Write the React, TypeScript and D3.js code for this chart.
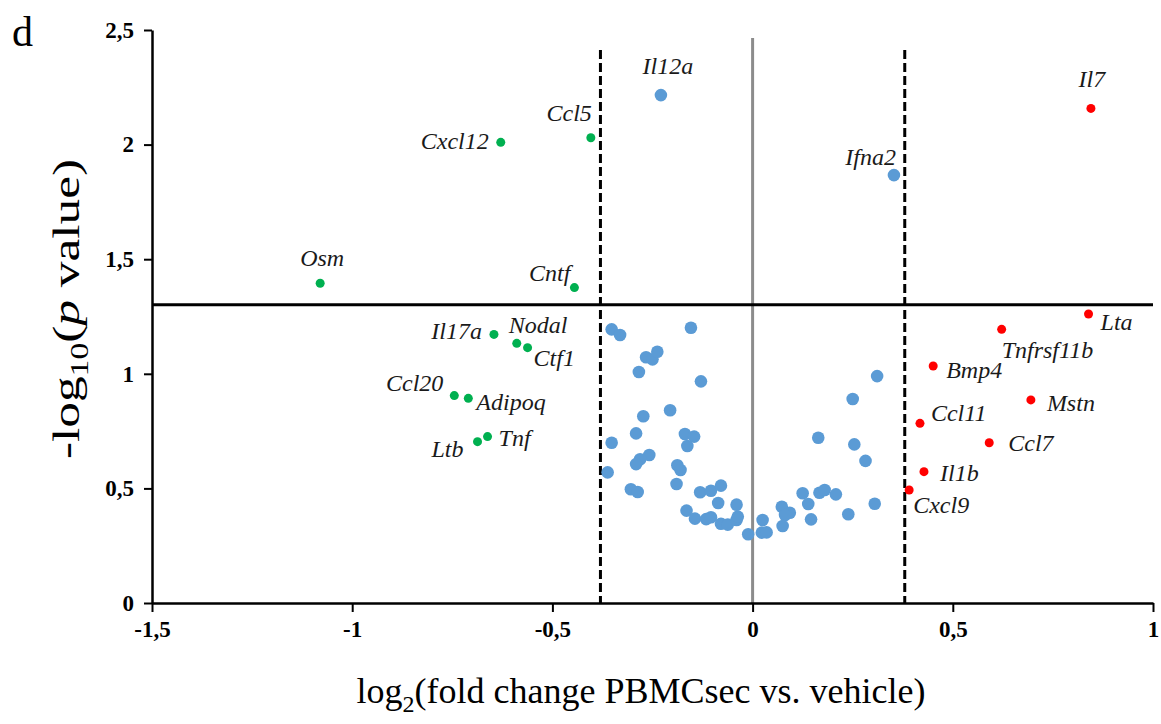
import React, { useRef, useEffect } from 'react';
import * as d3 from 'd3';

// x = log2 fold change, y = -log10 p
const blueX = [-0.352, -0.331, -0.154, -0.266, -0.25, -0.238, -0.284, -0.129, -0.206, -0.273, -0.291, -0.352, -0.169, -0.146, -0.163, -0.258, -0.281, -0.291, -0.362, -0.188, -0.18, -0.304, -0.287, -0.19, -0.131, -0.104, -0.079, -0.086, -0.04, -0.165, -0.144, -0.116, -0.104, -0.079, -0.062, -0.04, -0.037, -0.011, 0.025, 0.023, 0.035, 0.073, 0.093, 0.081, 0.075, 0.125, 0.139, 0.146, 0.164, 0.167, 0.18, 0.208, 0.239, 0.254, 0.25, 0.282, 0.311, 0.305];
const blueY = [1.194, 1.169, 1.201, 1.072, 1.063, 1.096, 1.008, 0.967, 0.841, 0.815, 0.74, 0.699, 0.737, 0.726, 0.685, 0.646, 0.627, 0.606, 0.57, 0.601, 0.58, 0.496, 0.484, 0.519, 0.483, 0.49, 0.512, 0.436, 0.429, 0.403, 0.368, 0.366, 0.374, 0.346, 0.342, 0.362, 0.377, 0.3, 0.362, 0.307, 0.308, 0.42, 0.394, 0.384, 0.336, 0.479, 0.432, 0.365, 0.721, 0.481, 0.493, 0.474, 0.387, 0.692, 0.89, 0.62, 0.99, 0.433];

const blueNamed = ['Il12a', 'Ifna2'];
const blueNamedX = [-0.229, 0.353];
const blueNamedY = [2.216, 1.867];

const greenNames = ['Osm', 'Cxcl12', 'Ccl5', 'Cntf', 'Il17a', 'Nodal', 'Ctf1', 'Ccl20', 'Adipoq', 'Ltb', 'Tnf'];
const greenX = [-1.08, -0.629, -0.404, -0.445, -0.646, -0.589, -0.562, -0.745, -0.71, -0.687, -0.662];
const greenY = [1.395, 2.01, 2.03, 1.376, 1.172, 1.133, 1.114, 0.905, 0.893, 0.704, 0.726];

const redNames = ['Il7', 'Lta', 'Tnfrsf11b', 'Bmp4', 'Mstn', 'Ccl11', 'Ccl7', 'Il1b', 'Cxcl9'];
const redX = [0.845, 0.839, 0.622, 0.451, 0.695, 0.418, 0.591, 0.428, 0.391];
const redY = [2.158, 1.261, 1.194, 1.034, 0.886, 0.784, 0.699, 0.573, 0.493];

const xTicks = [-1.5, -1, -0.5, 0, 0.5, 1];
const yTicks = [0, 0.5, 1, 1.5, 2, 2.5];
const pThreshold = 1.301;
const fcThreshold = 0.38;

// label placement relative to the point: [anchor, dx, dy]
const labelPlace: Record<string, [string, number, number]> = {
  Il12a: ['middle', 7, -21],
  Ifna2: ['end', 2, -10],
  Il7: ['middle', 1, -21],
  Osm: ['middle', 2, -17],
  Cxcl12: ['end', -12, 7],
  Ccl5: ['end', 1, -17],
  Cntf: ['end', -4, -7],
  Il17a: ['end', -12, 5],
  Nodal: ['start', -8, -10],
  Ctf1: ['start', 6, 18],
  Ccl20: ['end', -11, -5],
  Adipoq: ['start', 8, 12],
  Ltb: ['end', -14, 15],
  Tnf: ['start', 11, 9],
  Lta: ['start', 12, 16],
  Tnfrsf11b: ['start', 0, 29],
  Bmp4: ['start', 13, 12],
  Mstn: ['start', 16, 11],
  Ccl11: ['start', 11, -2],
  Ccl7: ['start', 19, 8],
  Il1b: ['start', 16, 9],
  Cxcl9: ['start', 4, 23],
};

const App = () => {
  const svgRef = useRef<SVGSVGElement>(null);

  useEffect(() => {
    const svg = d3.select(svgRef.current);
    svg.selectAll('*').remove();

    const width = 1161;
    const height = 724;
    const left = 152, right = 1153, top = 30, bottom = 603;
    const serif = '"Liberation Serif", "Times New Roman", serif';

    const x = d3.scaleLinear().domain([-1.5, 1]).range([left, right]);
    const y = d3.scaleLinear().domain([0, 2.5]).range([bottom, top]);
    const fmt = (d: number) => String(d).replace('.', ',');

    svg.attr('width', width).attr('height', height).attr('viewBox', [0, 0, width, height]);

    // panel letter
    svg.append('text').attr('x', 12).attr('y', 46)
      .attr('font-family', serif).attr('font-size', 42).text('d');

    // guide lines
    svg.append('line')
      .attr('x1', x(0)).attr('x2', x(0)).attr('y1', 38).attr('y2', bottom)
      .attr('stroke', '#8c8c8c').attr('stroke-width', 3);
    [-fcThreshold, fcThreshold].forEach(v => {
      svg.append('line')
        .attr('x1', x(v)).attr('x2', x(v)).attr('y1', 50).attr('y2', bottom)
        .attr('stroke', '#000').attr('stroke-width', 3).attr('stroke-dasharray', '9,4');
    });
    svg.append('line')
      .attr('x1', left).attr('x2', right).attr('y1', y(pThreshold)).attr('y2', y(pThreshold))
      .attr('stroke', '#000').attr('stroke-width', 3);

    // axes
    const gy = svg.append('g').attr('transform', `translate(${left},0)`)
      .call(d3.axisLeft(y).tickValues(yTicks).tickFormat(d => fmt(d as number)).tickSize(8).tickPadding(10).tickSizeOuter(0));
    const gx = svg.append('g').attr('transform', `translate(0,${bottom})`)
      .call(d3.axisBottom(x).tickValues(xTicks).tickFormat(d => fmt(d as number)).tickSize(9).tickPadding(9).tickSizeOuter(0));
    [gx, gy].forEach(g => {
      g.select('.domain').attr('stroke-width', 2.5);
      g.selectAll('.tick line').attr('stroke-width', 2);
      g.selectAll('.tick text')
        .attr('font-family', serif).attr('font-size', 23).attr('font-weight', 'bold').attr('fill', '#000');
    });

    // points
    const blue = blueX.map((v, i) => ({ x: v, y: blueY[i] }))
      .concat(blueNamedX.map((v, i) => ({ x: v, y: blueNamedY[i] })));
    svg.append('g').selectAll('circle').data(blue).join('circle')
      .attr('cx', d => x(d.x)).attr('cy', d => y(d.y)).attr('r', 6.3).attr('fill', '#5b9bd5');

    const green = greenNames.map((n, i) => ({ name: n, x: greenX[i], y: greenY[i] }));
    const red = redNames.map((n, i) => ({ name: n, x: redX[i], y: redY[i] }));
    svg.append('g').selectAll('circle').data(green).join('circle')
      .attr('cx', d => x(d.x)).attr('cy', d => y(d.y)).attr('r', 4.5).attr('fill', '#00b050');
    svg.append('g').selectAll('circle').data(red).join('circle')
      .attr('cx', d => x(d.x)).attr('cy', d => y(d.y)).attr('r', 4.5).attr('fill', '#ff0000');

    // labels
    const named = green.concat(red)
      .concat(blueNamed.map((n, i) => ({ name: n, x: blueNamedX[i], y: blueNamedY[i] })));
    svg.append('g').selectAll('text').data(named).join('text')
      .attr('x', d => x(d.x) + labelPlace[d.name][1])
      .attr('y', d => y(d.y) + labelPlace[d.name][2])
      .attr('text-anchor', d => labelPlace[d.name][0])
      .attr('font-family', serif).attr('font-style', 'italic').attr('font-size', 24)
      .attr('fill', '#1a1a1a')
      .text(d => d.name);

    // axis titles
    const xt = svg.append('text').attr('x', 641).attr('y', 703).attr('text-anchor', 'middle')
      .attr('font-family', serif).attr('font-size', 36);
    xt.append('tspan').text('log');
    xt.append('tspan').attr('font-size', 24).attr('dy', 9).text('2');
    xt.append('tspan').attr('dy', -9).text('(fold change PBMCsec vs. vehicle)');

    const yt = svg.append('text').attr('transform', `translate(79,${309}) rotate(-90)`)
      .attr('text-anchor', 'middle').attr('font-family', serif).attr('font-size', 38)
      .attr('textLength', 300).attr('lengthAdjust', 'spacingAndGlyphs');
    yt.append('tspan').text('-log');
    yt.append('tspan').attr('font-size', 25).attr('dy', 9).text('10');
    yt.append('tspan').attr('dy', -9).text('(');
    yt.append('tspan').attr('font-style', 'italic').text('p');
    yt.append('tspan').text(' value)');
  }, []);

  return <svg ref={svgRef} style={{ position: 'absolute', left: 0, top: 0 }}></svg>;
};

export default App;
